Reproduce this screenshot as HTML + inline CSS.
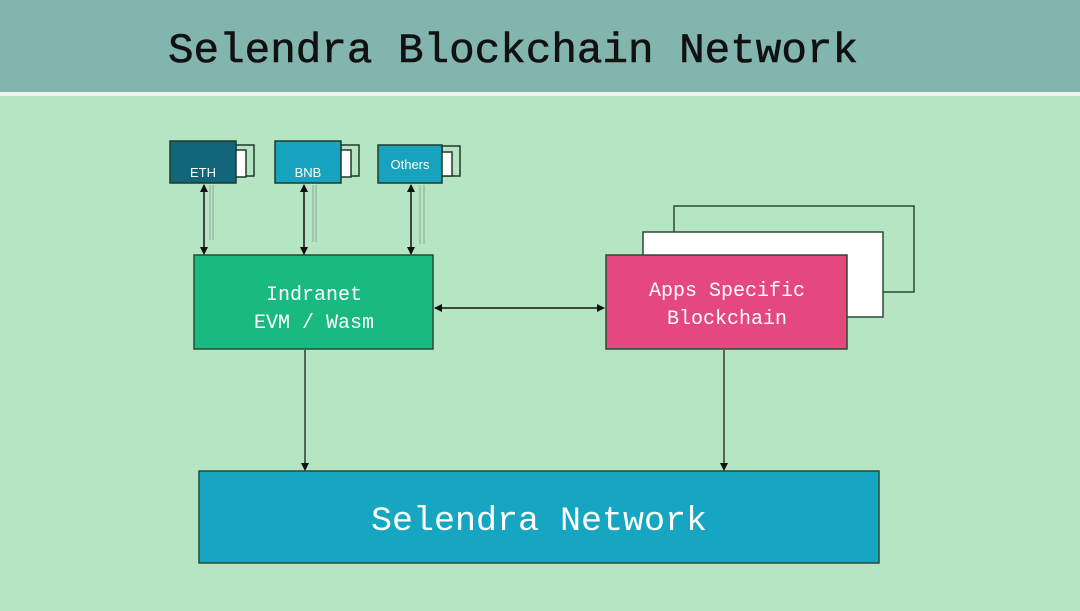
<!DOCTYPE html>
<html><head><meta charset="utf-8"><style>
html,body{margin:0;padding:0;width:1080px;height:611px;overflow:hidden;background:#b6e5c4}
</style></head><body>
<svg width="1080" height="611" xmlns="http://www.w3.org/2000/svg" font-family="'Liberation Mono', monospace">
<defs>
<marker id="a" markerWidth="8" markerHeight="8" refX="7" refY="4" orient="auto-start-reverse" markerUnits="userSpaceOnUse"><path d="M0,0 L8,4 L0,8 z" fill="#111"/></marker>
</defs>
<rect x="0" y="0" width="1080" height="92" fill="#82b5ad"/>
<rect x="0" y="92" width="1080" height="4" fill="#eef6ee"/>
<rect x="0" y="96" width="1080" height="515" fill="#b6e5c4"/>
<text x="168" y="62" font-size="42" fill="#111" textLength="690" lengthAdjust="spacingAndGlyphs" stroke="#111" stroke-width="0.6">Selendra Blockchain Network</text>

<g stroke="#1f3a2a" stroke-width="1.5">
<rect x="236" y="145" width="18" height="31" fill="none"/>
<rect x="234" y="150" width="12" height="27" fill="#fff"/>
<rect x="170" y="141" width="66" height="42" fill="#13667a"/>
<rect x="341" y="145" width="18" height="31" fill="none"/>
<rect x="339" y="150" width="12" height="27" fill="#fff"/>
<rect x="275" y="141" width="66" height="42" fill="#17a3bd"/>
<rect x="442" y="146" width="18" height="30" fill="none"/>
<rect x="440" y="152" width="12" height="24" fill="#fff"/>
<rect x="378" y="145" width="64" height="38" fill="#17a3bd"/>
</g>
<g fill="#fff" font-family="'Liberation Sans', sans-serif" font-size="13" text-anchor="middle">
<text x="203" y="177">ETH</text>
<text x="308" y="177">BNB</text>
<text x="410" y="169">Others</text>
</g>
<g stroke="#8aa898" stroke-width="1">
<line x1="210" y1="185" x2="210" y2="240"/><line x1="213" y1="185" x2="213" y2="240"/>
<line x1="313" y1="185" x2="313" y2="242"/><line x1="316" y1="185" x2="316" y2="242"/>
<line x1="420" y1="185" x2="420" y2="244"/><line x1="424" y1="185" x2="424" y2="244"/>
</g>
<g stroke="#111" stroke-width="1.5" marker-start="url(#a)" marker-end="url(#a)">
<line x1="204" y1="185" x2="204" y2="254"/>
<line x1="304" y1="185" x2="304" y2="254"/>
<line x1="411" y1="185" x2="411" y2="254"/>
<line x1="435" y1="308" x2="604" y2="308"/>
</g>

<g stroke="#2a4a35" stroke-width="1.5">
<rect x="674" y="206" width="240" height="86" fill="none"/>
<rect x="643" y="232" width="240" height="85" fill="#fff"/>
<rect x="606" y="255" width="241" height="94" fill="#e5487f"/>
<rect x="194" y="255" width="239" height="94" fill="#19b981"/>
<rect x="199" y="471" width="680" height="92" fill="#16a6c2"/>
</g>
<g fill="#fff" font-size="20" text-anchor="middle">
<text x="314" y="300">Indranet</text>
<text x="314" y="328">EVM / Wasm</text>
<text x="727" y="296">Apps Specific</text>
<text x="727" y="324">Blockchain</text>
<text x="539" y="530" font-size="34" textLength="336" lengthAdjust="spacingAndGlyphs">Selendra Network</text>
</g>
<g stroke="#111" stroke-width="1.2" marker-end="url(#a)">
<line x1="305" y1="350" x2="305" y2="470"/>
<line x1="724" y1="350" x2="724" y2="470"/>
</g>
</svg>
</body></html>
